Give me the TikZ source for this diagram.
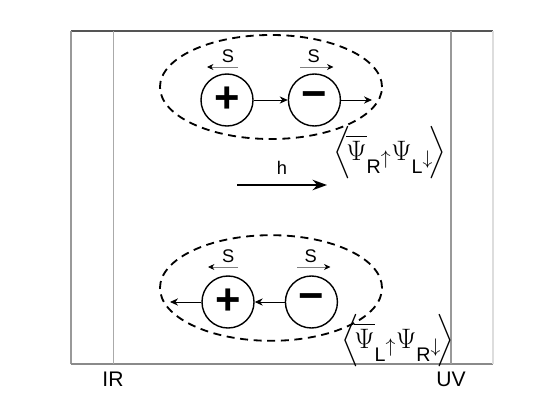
\documentclass[tikz,border=0pt]{standalone}
\usepackage{fix-cm}
\usepackage[no-math]{fontspec}
\setmainfont{Liberation Sans}
\usepackage{amsmath}
\usepackage{xcolor}
\definecolor{FrameTop}{HTML}{555555}
\definecolor{FrameSide}{HTML}{999999}
\definecolor{FrameLight}{HTML}{DDDDDD}
\definecolor{ScaleLine}{HTML}{AAAAAA}
\usepackage{tikz}
\usetikzlibrary{arrows.meta,positioning}
\newcommand{\lowsub}[1]{\raisebox{-0.6ex}{$\scriptstyle\text{#1}$}}

\begin{document}
\begin{tikzpicture}[x=0.025cm,y=0.025cm,
  charge/.style={draw,circle,line width=1pt,minimum size=1.3cm,inner sep=0pt,font=\fontsize{31}{31}\selectfont\bfseries},
  bond/.style={-{Stealth[length=2mm,width=1.8mm]},line width=0.6pt},
  spin/.style={-{Stealth[length=1.6mm,width=1.5mm,color=black]},line width=0.5pt,draw=gray},
  slabel/.style={font=\fontsize{13}{13}\selectfont,inner sep=1pt},
  pairline/.style={dashed,dash pattern=on 2mm off 1.4mm,line width=1.3pt},
  vev/.style={anchor=west,inner sep=0pt,font=\fontsize{20}{22}\selectfont}
]
\useasboundingbox (0,0) rectangle (545,410);
% frame and scale lines
\draw[FrameTop,line width=0.9pt] (71,379) -- (493,379);
\draw[FrameSide,line width=1pt] (71,379) -- (71,46);
\draw[FrameSide!90!black,line width=1pt] (71,46) -- (493,46);
\draw[FrameLight,line width=0.8pt] (493,379) -- (493,46);
\draw[ScaleLine,line width=0.5pt] (113,379) -- (113,46);
\draw[FrameSide,line width=1.2pt] (451,379) -- (451,46);
\node[font=\fontsize{15}{15}\selectfont] (ir) at (113,31) {IR};
\node[font=\fontsize{15}{15}\selectfont] (uv) at (451,31) {UV};

% upper pair
\draw[pairline] (271,323) ellipse [x radius=2.775cm,y radius=1.3cm];
\node[charge] (plusT) at (227,310) {+};
\node[charge,right=0.85cm of plusT] (minusT) {−};
\coordinate (endT) at (372,310);
\draw[bond] (plusT) -- (minusT);
\draw[bond] (minusT) -- (endT);
\draw[spin] ([shift={(11,33)}]plusT.center) -- ([shift={(-20,33)}]plusT.center)
  node[pos=0.32,above=1.5pt,slabel] (sTl) {S};
\draw[spin] ([shift={(-14,33)}]minusT.center) -- ([shift={(19,33)}]minusT.center)
  node[pos=0.4,above=1.5pt,slabel] (sTr) {S};
\node[vev] (vevT) at (333,257)
  {$\Bigl\langle\!\overline{\Psi}_{\lowsub{R}\uparrow}\Psi_{\lowsub{L}\downarrow}\!\Bigr\rangle$};

% field
\coordinate (hS) at (237,225);
\coordinate (hE) at (327,225);
\draw[-{Stealth[length=3.6mm,width=2.6mm]},line width=1.6pt] (hS) -- (hE)
  node[midway,above=3pt,font=\fontsize{13}{13}\selectfont] (h) {h};

% lower pair
\draw[pairline] (271,122) ellipse [x radius=2.775cm,y radius=1.32cm];
\node[charge] (plusB) at (228,108) {+};
\node[charge,right=0.75cm of plusB] (minusB) {−};
\coordinate (endB) at (170,108);
\draw[bond] (minusB) -- (plusB);
\draw[bond] (plusB) -- (endB);
\draw[spin] ([shift={(10,35)}]plusB.center) -- ([shift={(-20,35)}]plusB.center)
  node[pos=0.33,above=1.5pt,slabel] (sBl) {S};
\draw[spin] ([shift={(-14,35)}]minusB.center) -- ([shift={(19,35)}]minusB.center)
  node[pos=0.4,above=1.5pt,slabel] (sBr) {S};
\node[vev] (vevB) at (341,69)
  {$\Bigl\langle\!\overline{\Psi}_{\lowsub{L}\uparrow}\Psi_{\lowsub{R}\downarrow}\!\Bigr\rangle$};
\end{tikzpicture}
\end{document}
